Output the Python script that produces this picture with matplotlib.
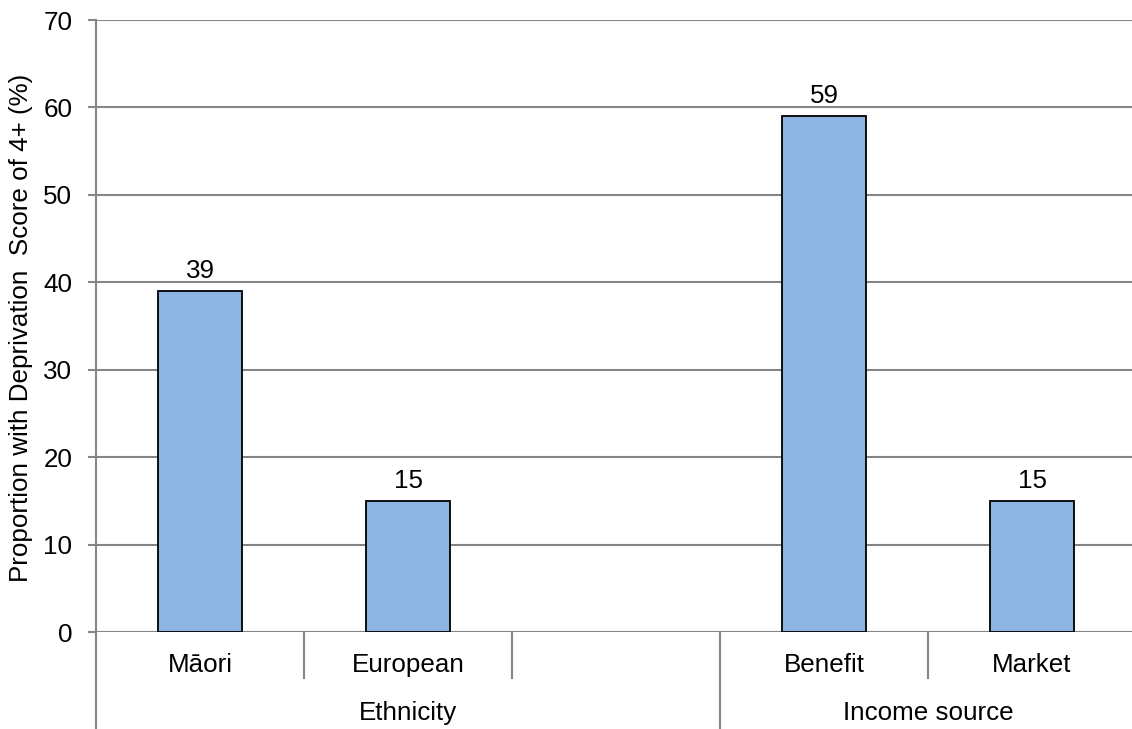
import matplotlib
matplotlib.use("Agg")
import matplotlib.pyplot as plt
import matplotlib.transforms as mtransforms

plt.rcParams['font.family'] = ['Liberation Sans', 'DejaVu Sans']

categories = ["Māori", "European", "", "Benefit", "Market"]
values = [39, 15, None, 59, 15]
groups = ["Ethnicity", "Income source"]
group_spans = [(0, 2), (3, 4)]  # inclusive slot indices per group
yticks = [0, 10, 20, 30, 40, 50, 60, 70]
ylabel = "Proportion with Deprivation  Score of 4+ (%)"

W, H = 1132, 729
fig = plt.figure(figsize=(W / 100, H / 100), dpi=100)
ax = fig.add_axes([96 / W, 1 - 632 / H, 1040 / W, 612 / H])

grid_col = "#868686"
bar_col = "#8EB4E3"
fs = 18.7

xs = [i for i, v in enumerate(values) if v is not None]
hs = [v for v in values if v is not None]
bars = ax.bar(xs, hs, width=0.4, color=bar_col, edgecolor="black", linewidth=1.3, zorder=3)
ax.bar_label(bars, labels=[f"{v:g}" for v in hs], padding=6, fontsize=fs)

ax.set_xlim(-0.5, len(categories) - 0.5)
ax.set_ylim(0, 70)
ax.set_yticks(yticks)
ax.set_yticklabels([str(t) for t in yticks], fontsize=fs)
ax.yaxis.grid(True, color=grid_col, linewidth=1.5, zorder=0)
ax.set_axisbelow(True)
ax.tick_params(axis='y', length=6, width=1.5, color=grid_col, pad=11)
ax.set_xticks([])
for s in ["top", "right", "bottom", "left"]:
    ax.spines[s].set_visible(False)

ax_h = 612
trans = mtransforms.blended_transform_factory(ax.transData, ax.transAxes)

# left axis line, running down through the category area
ax.plot([-0.5, -0.5], [1, -100 / ax_h], transform=trans, color=grid_col,
        linewidth=1.5, clip_on=False, zorder=4)

# category dividers
for i in range(len(categories) - 1):
    b = i + 0.5
    is_group_edge = any(b == hi + 0.5 for lo, hi in group_spans)
    bottom = -100 / ax_h if is_group_edge else -46 / ax_h
    ax.plot([b, b], [0, bottom], transform=trans, color=grid_col,
            linewidth=1.5, clip_on=False)

# category labels
for i, c in enumerate(categories):
    ax.text(i, -33 / ax_h, c, transform=trans, ha="center", va="center", fontsize=fs)

# group labels
for g, (lo, hi) in zip(groups, group_spans):
    ax.text((lo + hi) / 2, -81 / ax_h, g, transform=trans, ha="center",
            va="center", fontsize=fs)

fig.text(21 / W, 1 - 328 / H, ylabel, rotation=90, ha="center", va="center", fontsize=fs)

fig.savefig("out.png", dpi=100)
